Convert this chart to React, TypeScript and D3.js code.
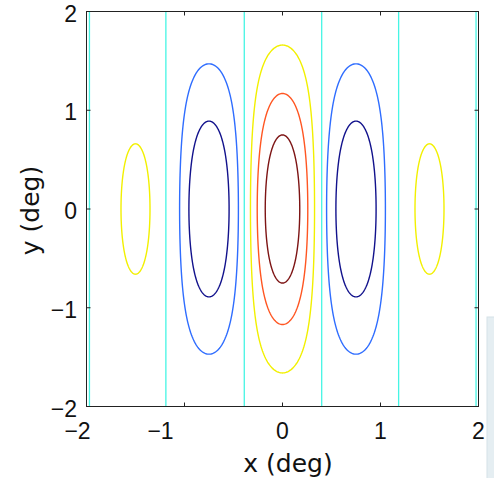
import React from "react";
import * as d3 from "d3";

// contour outlines (deg)
const contourCx = [-1.5, -0.75, -0.75, 0, 0, 0, 0.75, 0.75, 1.5];
const contourRx = [0.148, 0.3, 0.205, 0.327, 0.258, 0.176, 0.3, 0.205, 0.148];
const contourRy = [0.66, 1.47, 0.89, 1.66, 1.17, 0.75, 1.47, 0.89, 0.66];
const contourLevel = [1, -1, -2, 1, 2, 3, -1, -2, 1];

// zero-level contours are vertical lines
const zeroLineX = [-1.97, -1.19, -0.39, 0.4, 1.185, 1.975];

const levels = [-2, -1, 0, 1, 2, 3];
const levelColors = ["#12128c", "#2f6dff", "#45f5e4", "#f2f000", "#ff5622", "#7d1414"];

const xTicks = [-2, -1, 0, 1, 2];
const yTicks = [-2, -1, 0, 1, 2];

const W = 494;
const H = 478;
const sigmaY = 1.0; // vertical envelope width, controls how blunt the ovals are

const x = d3.scaleLinear().domain([-2, 2]).range([86.5, 478.5]);
const y = d3.scaleLinear().domain([-2, 2]).range([406.5, 11.5]);
const color = d3.scaleOrdinal<number, string>().domain(levels).range(levelColors);

const fmt = (v: number) => (v < 0 ? "\u2212" + Math.abs(v) : String(v));
// the original's negative x labels sit left of their ticks
const xLabelShift = (v: number) => (v === -2 ? -9 : v === -1 ? -24 : 0);

function outline(cx: number, rx: number, ry: number) {
  const u0 = (ry * ry) / (2 * sigmaY * sigmaY);
  const norm = 1 - Math.exp(-u0);
  const pts: [number, number][] = d3.range(0, 241).map((i) => {
    const th = (i / 240) * 2 * Math.PI;
    const t = Math.sin(th);
    const w = rx * Math.sqrt(Math.max(0, (1 - Math.exp(u0 * (t * t - 1))) / norm));
    return [cx + Math.sign(Math.cos(th)) * w, ry * t];
  });
  return d3
    .line<[number, number]>()
    .x((d) => x(d[0]))
    .y((d) => y(d[1]))
    .curve(d3.curveLinearClosed)(pts) as string;
}

export default function App() {
  const font = "'Liberation Sans', Arial, sans-serif";
  const labelFont = "'DejaVu Sans', sans-serif";
  const [x0, x1] = x.range();
  const [y0, y1] = y.range();
  return (
    <svg
      width={W}
      height={H}
      style={{ position: "absolute", left: 0, top: 0, background: "#fff" }}
    >
      <rect x={487} y={317} width={20} height={180} fill="#e5eef2" stroke="#d6e2e8" />
      {zeroLineX.map((v, i) => (
        <line key={"z" + i} x1={x(v)} x2={x(v)} y1={y1} y2={y0} stroke={color(0)} strokeWidth={1.3} />
      ))}
      {contourCx.map((cx, i) => (
        <path
          key={"c" + i}
          d={outline(cx, contourRx[i], contourRy[i])}
          fill="none"
          stroke={color(contourLevel[i])}
          strokeWidth={1.4}
        />
      ))}
      <rect x={x0} y={y1} width={x1 - x0} height={y0 - y1} fill="none" stroke="#222" strokeWidth={1} />
      {xTicks.map((t) => (
        <g key={"xt" + t}>
          <line x1={x(t)} x2={x(t)} y1={y0} y2={y0 - 4} stroke="#222" />
          <line x1={x(t)} x2={x(t)} y1={y1} y2={y1 + 4} stroke="#222" />
          <text
            x={x(t) + xLabelShift(t)}
            y={439}
            textAnchor="middle"
            fontFamily={font}
            fontSize={23}
            fill="#111"
          >
            {fmt(t)}
          </text>
        </g>
      ))}
      {yTicks.map((t) => (
        <g key={"yt" + t}>
          <line x1={x0} x2={x0 + 4} y1={y(t)} y2={y(t)} stroke="#222" />
          <line x1={x1} x2={x1 - 4} y1={y(t)} y2={y(t)} stroke="#222" />
          <text x={77} y={y(t) + 10} textAnchor="end" fontFamily={font} fontSize={23} fill="#111">
            {fmt(t)}
          </text>
        </g>
      ))}
      <text x={288} y={472} textAnchor="middle" fontFamily={labelFont} fontSize={25} fill="#111">
        x (deg)
      </text>
      <text
        transform={`translate(39,210.5) rotate(-90)`}
        textAnchor="middle"
        fontFamily={labelFont}
        fontSize={25}
        fill="#111"
      >
        y (deg)
      </text>
    </svg>
  );
}
